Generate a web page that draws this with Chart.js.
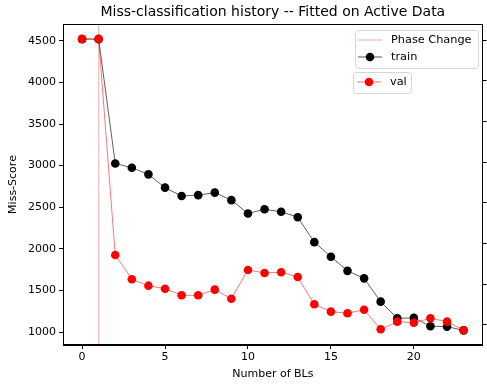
<!DOCTYPE html>
<html><head><meta charset="utf-8">
<script src="https://cdn.jsdelivr.net/npm/chart.js@4"></script>
<style>html,body{margin:0;padding:0;background:#fff}canvas{display:block}</style>
</head><body>
<canvas id="c" width="487" height="385" style="width:487px;height:385px"></canvas>
<script>
const steps = [0,1,2,3,4,5,6,7,8,9,10,11,12,13,14,15,16,17,18,19,20,21,22,23];
const trainScores = [4520,4520,3025,2975,2895,2735,2635,2645,2675,2585,2425,2475,2445,2380,2080,1905,1735,1645,1365,1165,1170,1070,1065,1020];
const valScores = [4515,4515,1860,1562,1483,1446,1365,1365,1434,1323,1676,1639,1648,1590,1254,1164,1144,1188,947,1041,1028,1082,1041,935];
const phaseChangeAt = 1;
const xTicks = [0,5,10,15,20];
const yTicks = [1000,1500,2000,2500,3000,3500,4000,4500];
const titleText = 'Miss-classification history -- Fitted on Active Data';
const xLabel = 'Number of BLs';
const yLabel = 'Miss-Score';
const legendLabels = ['Phase Change', 'train', 'val'];

const FONT = 'DejaVu Sans';

const framePlugin = {
  id: 'frame',
  afterDraw(chart) {
    const {ctx, chartArea: a} = chart;
    ctx.save();
    ctx.strokeStyle = '#000';
    ctx.lineWidth = 1;
    ctx.strokeRect(Math.round(a.left) + 0.5, Math.round(a.top) + 0.5, Math.round(a.right - a.left) - 1, Math.round(a.bottom - a.top) - 1);
    // title centred over the plot area
    ctx.fillStyle = '#000';
    ctx.font = '14px "' + FONT + '"';
    ctx.textAlign = 'center';
    ctx.textBaseline = 'middle';
    ctx.fillText(titleText, (a.left + a.right) / 2, 12);
    // legends
    function box(x, y, w, h) {
      ctx.fillStyle = 'rgba(255,255,255,0.8)';
      ctx.strokeStyle = '#d6d6d6';
      ctx.lineWidth = 1;
      ctx.beginPath();
      ctx.roundRect(x + 0.5, y + 0.5, w, h, 3);
      ctx.fill();
      ctx.stroke();
    }
    function item(x, y, color, lineColor, marker, label) {
      ctx.strokeStyle = lineColor;
      ctx.lineWidth = marker ? 0.9 : 1.2;
      ctx.beginPath();
      ctx.moveTo(x, y); ctx.lineTo(x + 24, y);
      ctx.stroke();
      if (marker) {
        ctx.fillStyle = color;
        ctx.beginPath();
        ctx.arc(x + 12, y, 4.3, 0, Math.PI * 2);
        ctx.fill();
      }
      ctx.fillStyle = '#000';
      ctx.font = '11.3px "' + FONT + '"';
      ctx.textBaseline = 'middle';
      ctx.textAlign = 'left';
      ctx.fillText(label, x + 33, y + 0.5);
    }
    box(355, 30, 123, 38);
    item(358, 40, '#e8b4b4', 'rgba(220,120,120,0.5)', false, legendLabels[0]);
    item(358, 57, '#000', 'rgba(0,0,0,0.75)', true, legendLabels[1]);
    box(353, 72, 58, 21);
    item(357, 82, '#ff0000', 'rgba(255,0,0,0.6)', true, legendLabels[2]);
    ctx.restore();
  }
};

const setTicks = (vals) => (scale) => { scale.ticks = vals.map(v => ({value: v})); };

new Chart(document.getElementById('c'), {
  type: 'line',
  data: {
    datasets: [
      {
        label: legendLabels[2],
        data: steps.map((s, i) => ({x: s, y: valScores[i]})),
        yAxisID: 'y2',
        borderColor: 'rgba(255,0,0,0.6)',
        borderWidth: 0.9,
        pointRadius: 4.3,
        pointBorderWidth: 0,
        pointBackgroundColor: '#ff0000',
        pointHoverRadius: 4.3,
        tension: 0,
        order: 0
      },
      {
        label: legendLabels[1],
        data: steps.map((s, i) => ({x: s, y: trainScores[i]})),
        yAxisID: 'y',
        borderColor: 'rgba(0,0,0,0.7)',
        borderWidth: 0.9,
        pointRadius: 4.3,
        pointBorderWidth: 0,
        pointBackgroundColor: '#000',
        pointHoverRadius: 4.3,
        tension: 0,
        order: 1
      },
      {
        label: legendLabels[0],
        data: [{x: phaseChangeAt, y: 0}, {x: phaseChangeAt, y: 10000}],
        yAxisID: 'y',
        borderColor: 'rgba(220,120,120,0.45)',
        borderWidth: 1.3,
        pointRadius: 0,
        order: 2
      }
    ]
  },
  options: {
    responsive: false,
    animation: false,
    devicePixelRatio: 1,
    layout: {padding: {top: 24, left: 0, right: 0, bottom: 0}},
    plugins: {
      legend: {display: false},
      tooltip: {enabled: false},
      title: {display: false}
    },
    scales: {
      x: {
        type: 'linear',
        min: -1.15, max: 24.15,
        afterBuildTicks: setTicks(xTicks),
        afterFit(s) { s.height = 40; },
        grid: {display: true, drawOnChartArea: false, drawTicks: true, tickLength: 4, color: '#000'},
        border: {display: true, color: '#000'},
        ticks: {color: '#000', font: {family: FONT, size: 11}, padding: 2, maxRotation: 0, autoSkip: false},
        title: {display: true, text: xLabel, color: '#000', font: {family: FONT, size: 11}, padding: {top: 2, bottom: 4}}
      },
      y: {
        type: 'linear',
        position: 'left',
        min: 844, max: 4702,
        afterBuildTicks: setTicks(yTicks),
        afterFit(s) { s.width = 63; },
        grid: {display: true, drawOnChartArea: false, drawTicks: true, tickLength: 4, color: '#000'},
        border: {display: true, color: '#000'},
        ticks: {color: '#000', font: {family: FONT, size: 11}, padding: 3, autoSkip: false, callback: v => String(v)},
        title: {display: true, text: yLabel, color: '#000', font: {family: FONT, size: 11}, padding: {top: 7, bottom: 0}}
      },
      y2: {
        type: 'linear',
        position: 'right',
        min: 754, max: 4698,
        afterBuildTicks: setTicks(yTicks),
        afterFit(s) { s.width = 4; },
        grid: {display: true, drawOnChartArea: false, drawTicks: true, tickLength: 4, color: '#000'},
        border: {display: true, color: '#000'},
        ticks: {display: false, autoSkip: false}
      }
    }
  },
  plugins: [framePlugin]
});
</script>
</body></html>
